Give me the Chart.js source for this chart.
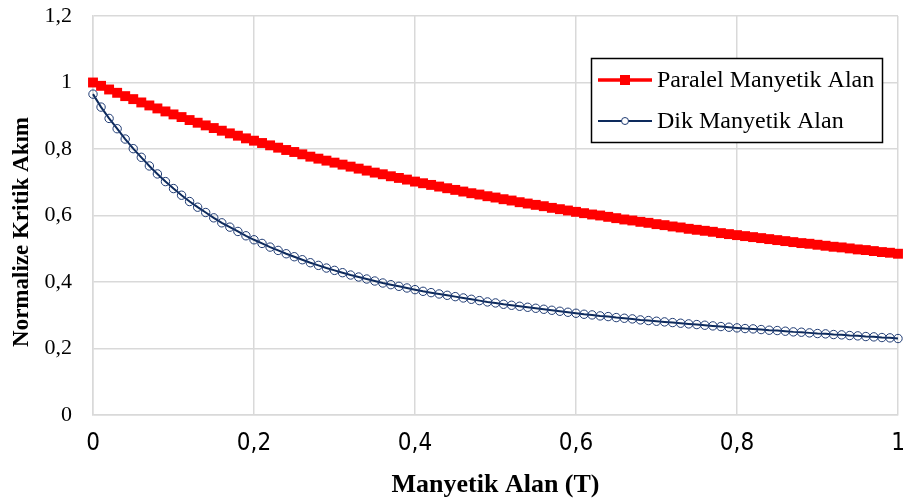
<!DOCTYPE html>
<html lang="tr">
<head>
<meta charset="utf-8">
<title>Normalize Kritik Akım</title>
<script src="https://cdn.jsdelivr.net/npm/chart.js@4.4.1/dist/chart.umd.min.js"></script>
<style>
  html, body { margin: 0; padding: 0; background: #fff; }
  #graph { display: block; }
</style>
</head>
<body>
<canvas id="graph" width="905" height="501"></canvas>
<script>
// manyetik alan (T)
const alan = [
  0, 0.01, 0.02, 0.03, 0.04, 0.05, 0.06, 0.07, 0.08, 0.09,
  0.1, 0.11, 0.12, 0.13, 0.14, 0.15, 0.16, 0.17, 0.18, 0.19,
  0.2, 0.21, 0.22, 0.23, 0.24, 0.25, 0.26, 0.27, 0.28, 0.29,
  0.3, 0.31, 0.32, 0.33, 0.34, 0.35, 0.36, 0.37, 0.38, 0.39,
  0.4, 0.41, 0.42, 0.43, 0.44, 0.45, 0.46, 0.47, 0.48, 0.49,
  0.5, 0.51, 0.52, 0.53, 0.54, 0.55, 0.56, 0.57, 0.58, 0.59,
  0.6, 0.61, 0.62, 0.63, 0.64, 0.65, 0.66, 0.67, 0.68, 0.69,
  0.7, 0.71, 0.72, 0.73, 0.74, 0.75, 0.76, 0.77, 0.78, 0.79,
  0.8, 0.81, 0.82, 0.83, 0.84, 0.85, 0.86, 0.87, 0.88, 0.89,
  0.9, 0.91, 0.92, 0.93, 0.94, 0.95, 0.96, 0.97, 0.98, 0.99,
  1
];

// normalize kritik akım, paralel alan
const paralel = [
  1.000, 0.990, 0.979, 0.969, 0.959, 0.950, 0.940, 0.931, 0.922, 0.913,
  0.904, 0.896, 0.887, 0.879, 0.871, 0.863, 0.855, 0.847, 0.840, 0.832,
  0.825, 0.818, 0.811, 0.804, 0.797, 0.791, 0.784, 0.777, 0.771, 0.765,
  0.759, 0.753, 0.747, 0.741, 0.735, 0.729, 0.724, 0.718, 0.713, 0.708,
  0.702, 0.697, 0.692, 0.687, 0.682, 0.677, 0.672, 0.667, 0.663, 0.658,
  0.654, 0.649, 0.645, 0.640, 0.636, 0.632, 0.628, 0.623, 0.619, 0.615,
  0.611, 0.607, 0.603, 0.600, 0.596, 0.592, 0.588, 0.585, 0.581, 0.578,
  0.574, 0.571, 0.567, 0.564, 0.560, 0.557, 0.554, 0.551, 0.547, 0.544,
  0.541, 0.538, 0.535, 0.532, 0.529, 0.526, 0.523, 0.520, 0.517, 0.515,
  0.512, 0.509, 0.506, 0.504, 0.501, 0.498, 0.496, 0.493, 0.490, 0.488,
  0.485
];

// normalize kritik akım, dik alan
const dik = [
  0.965, 0.926, 0.892, 0.861, 0.830, 0.801, 0.775, 0.749, 0.725, 0.702,
  0.681, 0.661, 0.642, 0.625, 0.609, 0.593, 0.578, 0.565, 0.552, 0.539,
  0.527, 0.516, 0.505, 0.495, 0.485, 0.476, 0.467, 0.458, 0.450, 0.442,
  0.435, 0.428, 0.421, 0.415, 0.409, 0.403, 0.397, 0.392, 0.387, 0.382,
  0.377, 0.372, 0.368, 0.364, 0.360, 0.356, 0.352, 0.348, 0.344, 0.340,
  0.337, 0.333, 0.330, 0.327, 0.324, 0.321, 0.318, 0.315, 0.312, 0.309,
  0.306, 0.303, 0.301, 0.298, 0.296, 0.293, 0.291, 0.289, 0.286, 0.284,
  0.282, 0.280, 0.278, 0.276, 0.274, 0.272, 0.270, 0.268, 0.266, 0.264,
  0.262, 0.260, 0.259, 0.257, 0.255, 0.254, 0.252, 0.250, 0.249, 0.247,
  0.245, 0.244, 0.242, 0.241, 0.239, 0.238, 0.236, 0.235, 0.233, 0.232,
  0.230
];

const xEtiketleri = ["0", "0,2", "0,4", "0,6", "0,8", "1"];
const yEtiketleri = ["0", "0,2", "0,4", "0,6", "0,8", "1", "1,2"];
const yBaslik = "Normalize Kritik Akım";

const serif = '"Liberation Serif", "Times New Roman", serif';
const dar = '"Liberation Sans Narrow", "DejaVu Sans Condensed", "Liberation Sans", sans-serif';
const izgara = "#d9d9d9";

// y title (sits a bit below the axis centre) and the legend box at top right
const lejant = {
  id: "lejant",
  afterDraw(chart) {
    const ctx = chart.ctx;
    ctx.save();
    ctx.translate(22, 232);
    ctx.rotate(-Math.PI / 2);
    ctx.fillStyle = "#000";
    ctx.font = "bold 23px " + serif;
    ctx.textAlign = "center";
    ctx.textBaseline = "middle";
    ctx.fillText(yBaslik, 0, 0);
    ctx.restore();

    const bx = 591, by = 58, bw = 291, bh = 84;
    ctx.save();
    ctx.fillStyle = "#fff";
    ctx.fillRect(bx, by, bw, bh);
    ctx.strokeStyle = "#000";
    ctx.lineWidth = 1.5;
    ctx.strokeRect(bx + 0.5, by + 0.5, bw, bh);

    chart.data.datasets.forEach((ds, i) => {
      const y = 80 + i * 41;
      ctx.strokeStyle = ds.borderColor;
      ctx.lineWidth = i === 0 ? 3.5 : 2;
      ctx.beginPath();
      ctx.moveTo(598, y);
      ctx.lineTo(652, y);
      ctx.stroke();
      if (ds.pointStyle === "rect") {
        ctx.fillStyle = ds.pointBackgroundColor;
        ctx.fillRect(620, y - 5, 10, 10);
      } else {
        ctx.fillStyle = "#fff";
        ctx.lineWidth = 1;
        ctx.strokeStyle = ds.pointBorderColor;
        ctx.beginPath();
        ctx.arc(625, y, 3.5, 0, Math.PI * 2);
        ctx.fill();
        ctx.stroke();
      }
      ctx.fillStyle = "#000";
      ctx.font = "24px " + serif;
      ctx.textAlign = "left";
      ctx.textBaseline = "middle";
      ctx.fillText(ds.label, 657, y + 1);
    });
    ctx.restore();
  }
};

const graph = document.getElementById("graph").getContext("2d");

let myChart = new Chart(graph, {
  type: "line",
  data: {
    datasets: [
      {
        label: "Paralel Manyetik Alan",
        data: alan.map((b, i) => ({ x: b, y: paralel[i] })),
        borderColor: "#ff0000",
        borderWidth: 4,
        pointStyle: "rect",
        pointRadius: 7,
        pointBackgroundColor: "#ff0000",
        pointBorderWidth: 0,
        pointBorderColor: "#ff0000",
        tension: 0,
        clip: false,
        order: 1,
      },
      {
        label: "Dik Manyetik Alan",
        data: alan.map((b, i) => ({ x: b, y: dik[i] })),
        borderColor: "#0d2a5c",
        borderWidth: 2,
        pointStyle: "circle",
        pointRadius: 4.2,
        pointBackgroundColor: "rgba(255,255,255,0)",
        pointBorderColor: "#1f3b73",
        pointBorderWidth: 1,
        tension: 0,
        clip: false,
        order: 0,
      },
    ],
  },
  options: {
    responsive: false,
    animation: false,
    events: [],
    layout: {
      padding: { top: 16, right: 7, left: 0, bottom: 0 },
    },
    plugins: {
      legend: { display: false },
      tooltip: { enabled: false },
    },
    scales: {
      x: {
        type: "linear",
        min: 0,
        max: 1,
        afterFit(scale) {
          scale.height = 86;
          scale.paddingLeft = 0;
          scale.paddingRight = 0;
        },
        ticks: {
          stepSize: 0.2,
          padding: 14,
          maxRotation: 0,
          color: "#000",
          font: { family: dar, size: 24 },
          callback: (v, i) => xEtiketleri[i],
        },
        grid: { color: izgara, lineWidth: 1.5, drawTicks: false },
        border: { color: izgara, width: 1.5 },
        title: {
          display: true,
          text: "Manyetik Alan (T)",
          color: "#000",
          font: { family: serif, size: 26, weight: "bold" },
          padding: { top: 0, bottom: 0 },
        },
      },
      y: {
        min: 0,
        max: 1.2,
        afterFit(scale) {
          scale.width = 93;
          scale.paddingTop = 0;
          scale.paddingBottom = 0;
        },
        ticks: {
          stepSize: 0.2,
          padding: 21,
          color: "#000",
          font: { family: serif, size: 22 },
          callback: (v, i) => yEtiketleri[i],
        },
        grid: { color: izgara, lineWidth: 1.5, drawTicks: false },
        border: { color: izgara, width: 1.5 },
      },
    },
  },
  plugins: [lejant],
});
</script>
</body>
</html>
